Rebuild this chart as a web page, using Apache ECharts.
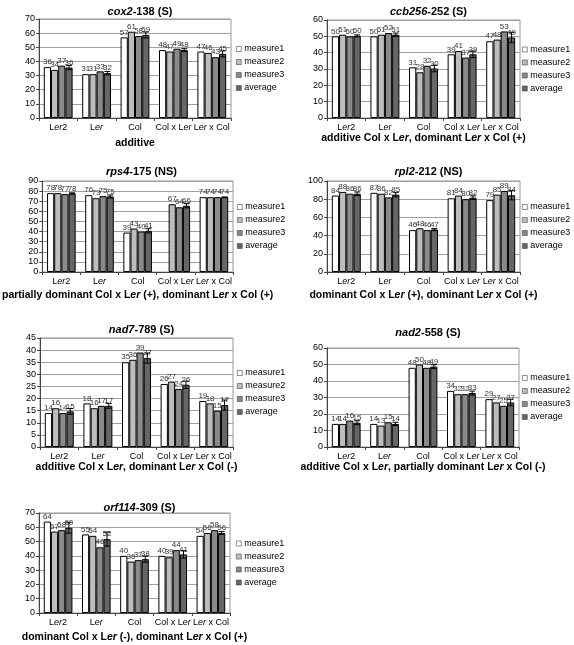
<!DOCTYPE html>
<html>
<head>
<meta charset="utf-8">
<script src="https://cdn.jsdelivr.net/npm/echarts@6/dist/echarts.min.js"></script>
<style>html,body{margin:0;padding:0;background:#fff;}#c{width:574px;height:645px;}</style>
</head>
<body>
<div id="c"></div>
<script>
const categories = ['Ler2', 'Ler', 'Col', 'Col x Ler', 'Ler x Col'];
const seriesNames = ['measure1', 'measure2', 'measure3', 'average'];

// cox2-138 (S)
const cox2M1 = [36, 31, 57, 48, 47];
const cox2M2 = [34, 31, 61, 47, 46];
const cox2M3 = [37, 33, 58, 49, 43];
const cox2Avg = [35.7, 31.7, 58.7, 48, 45.3];
const cox2Err = [1.5, 1.2, 2.1, 1.0, 2.1];
// ccb256-252 (S)
const ccbM1 = [50, 50, 31, 39, 47];
const ccbM2 = [51, 51, 28, 41, 48];
const ccbM3 = [50, 52, 32, 37, 53];
const ccbAvg = [50.3, 51, 30.3, 39, 49.3];
const ccbErr = [0.6, 1.0, 2.0, 2.0, 3.2];
// rps4-175 (NS)
const rps4M1 = [78, 76, 39, null, 74];
const rps4M2 = [78, 73, 43, 67, 74];
const rps4M3 = [77, 75, 40, 64, 74];
const rps4Avg = [77.7, 74.7, 40.7, 65.5, 74];
const rps4Err = [0.6, 1.5, 2.1, 2.1, 0];
// rpl2-212 (NS)
const rpl2M1 = [84, 87, 46, 81, 79];
const rpl2M2 = [88, 86, 48, 84, 85];
const rpl2M3 = [86, 82, 46, 80, 89];
const rpl2Avg = [86, 85, 46.7, 81.7, 84.3];
const rpl2Err = [2.0, 2.5, 1.2, 2.0, 5.0];
// nad7-789 (S)
const nad7M1 = [14, 18, 35, 26, 19];
const nad7M2 = [16, 16, 36, 27, 18];
const nad7M3 = [14, 17, 39, 24, 15];
const nad7Avg = [14.7, 17, 36.7, 25.7, 17.3];
const nad7Err = [1.2, 1.0, 2.1, 1.5, 2.1];
// nad2-558 (S)
const nad2M1 = [14, 14, 48, 34, 29];
const nad2M2 = [14, 13, 50, 32, 27];
const nad2M3 = [16, 15, 48, 32, 25];
const nad2Avg = [14.7, 14, 48.7, 32.7, 27];
const nad2Err = [1.2, 1.0, 1.2, 1.2, 2.0];
// orf114-309 (S)
const orfM1 = [64, 55, 40, 40, 54];
const orfM2 = [57, 54, 36, 39, 56];
const orfM3 = [58, 46, 37, 44, 58];
const orfAvg = [59.7, 51.7, 37.7, 41, 56];
const orfErr = [3.8, 4.9, 2.1, 2.6, 1.0];

const yMax = [70, 60, 90, 100, 45, 60, 70];
const yStep = [10, 10, 10, 20, 5, 10, 10];
const titleGene = ['cox2', 'ccb256', 'rps4', 'rpl2', 'nad7', 'nad2', 'orf114'];
const titleRest = ['-138 (S)', '-252 (S)', '-175 (NS)', '-212 (NS)', '-789 (S)', '-558 (S)', '-309 (S)'];
const xNames = [
  'additive',
  'additive Col x L{bi|er}, dominant L{bi|er} x Col (+)',
  'partially dominant Col x L{bi|er} (+), dominant L{bi|er} x Col (+)',
  'dominant Col x L{bi|er} (+), dominant L{bi|er} x Col (+)',
  'additive Col x L{bi|er}, dominant L{bi|er} x Col (-)',
  'additive Col x L{bi|er}, partially dominant L{bi|er} x Col (-)',
  'dominant Col x L{bi|er} (-), dominant L{bi|er} x Col (+)'
];

const panelData = [
  [cox2M1, cox2M2, cox2M3, cox2Avg, cox2Err],
  [ccbM1, ccbM2, ccbM3, ccbAvg, ccbErr],
  [rps4M1, rps4M2, rps4M3, rps4Avg, rps4Err],
  [rpl2M1, rpl2M2, rpl2M3, rpl2Avg, rpl2Err],
  [nad7M1, nad7M2, nad7M3, nad7Avg, nad7Err],
  [nad2M1, nad2M2, nad2M3, nad2Avg, nad2Err],
  [orfM1, orfM2, orfM3, orfAvg, orfErr]
];

// layout: [left, top, width, height, titleTop, nameGap, legendLeft]
const layout = [
  [39, 19, 192, 99, 1, 20, 236],
  [327, 20, 193, 98, 1, 10, 522],
  [40, 181, 193, 91, 161, 18, 237],
  [327, 181, 193, 91, 161, 18, 522],
  [40, 338, 193, 109, 319, 15, 237],
  [327, 348, 192, 99, 322, 13, 522],
  [39, 513, 191, 100, 497, 19, 236]
];

const colors = ['#ffffff', '#bdbdbd', '#8a8a8a', '#666666'];
const FONT = 'Liberation Sans';
const GAP = 0.25;

const option = {
  animation: false,
  backgroundColor: '#fff',
  title: [], grid: [], xAxis: [], yAxis: [], legend: [], series: []
};

layout.forEach((L, p) => {
  const [left, top, width, height, tTop, nGap, lLeft] = L;
  option.title.push({
    text: '{bi|' + titleGene[p] + '}{b|' + titleRest[p] + '}',
    left: left + width / 2,
    top: tTop,
    textAlign: 'center',
    textStyle: {
      fontSize: 11, fontFamily: FONT, fontWeight: 'bold', color: '#000',
      rich: {
        bi: {fontSize: 11, fontFamily: FONT, fontWeight: 'bold', fontStyle: 'italic', color: '#000'},
        b: {fontSize: 11, fontFamily: FONT, fontWeight: 'bold', color: '#000'}
      }
    }
  });
  option.grid.push({
    left: left, top: top, width: width, height: height,
    show: true, borderColor: '#999', borderWidth: 1, backgroundColor: '#fff'
  });
  option.xAxis.push({
    type: 'category', gridIndex: p, data: categories,
    axisLine: {lineStyle: {color: '#444', width: 1}},
    axisTick: {show: true, alignWithLabel: false, length: 3, lineStyle: {color: '#444'}},
    axisLabel: {
      fontSize: 9, fontFamily: FONT, color: '#000', margin: 5, interval: 0,
      formatter: v => v.replace('Ler', 'L{i|er}'),
      rich: {i: {fontSize: 9, fontFamily: FONT, fontStyle: 'italic', color: '#000'}}
    },
    name: xNames[p], nameLocation: 'middle', nameGap: nGap,
    nameTextStyle: {
      fontSize: 10.5, fontFamily: FONT, fontWeight: 'bold', color: '#000',
      rich: {bi: {fontSize: 10.5, fontFamily: FONT, fontWeight: 'bold', fontStyle: 'italic', color: '#000'}}
    }
  });
  option.yAxis.push({
    type: 'value', gridIndex: p, min: 0, max: yMax[p], interval: yStep[p],
    axisLine: {show: true, lineStyle: {color: '#444', width: 1}},
    axisTick: {show: true, length: 3, lineStyle: {color: '#444'}},
    axisLabel: {fontSize: 9, fontFamily: FONT, color: '#000', margin: 4},
    splitLine: {show: true, lineStyle: {color: '#a0a0a0', width: 1}}
  });
  option.legend.push({
    data: seriesNames, orient: 'vertical', left: lLeft,
    top: top + height / 2 - 24,
    itemWidth: 5, itemHeight: 5, itemGap: 4, icon: 'rect',
    itemStyle: {borderWidth: 0.6, borderColor: '#444'},
    textStyle: {fontSize: 9, fontFamily: FONT, color: '#000', padding: [0, 0, 0, -2]},
    padding: 0, selectedMode: false
  });
  const d = panelData[p];
  for (let s = 0; s < 4; s++) {
    option.series.push({
      type: 'bar', name: seriesNames[s], xAxisIndex: p, yAxisIndex: p,
      data: d[s], barGap: '0%', barCategoryGap: (GAP * 100) + '%',
      itemStyle: {color: colors[s], borderColor: '#000', borderWidth: 1},
      label: {
        show: true, position: 'top', distance: 1, fontSize: 8, fontFamily: FONT, color: '#333',
        formatter: pr => (pr.value == null ? '' : Math.round(pr.value))
      }
    });
  }
  const errData = d[3].map((v, i) => [i, v, d[4][i]]);
  option.series.push({
    type: 'custom', name: 'err' + p, xAxisIndex: p, yAxisIndex: p, z: 5,
    data: errData, encode: {x: 0, y: 1},
    renderItem: function (params, api) {
      const x = api.value(0), y = api.value(1), e = api.value(2);
      const band = api.size([1, 0])[0];
      const group = band * (1 - GAP);
      const bw = group / 4;
      const c = api.coord([x, y]);
      const cx = c[0] - group / 2 + bw * 3.5;
      const hi = api.coord([x, y + e])[1];
      const lo = api.coord([x, y - e])[1];
      const w = 3;
      const st = {stroke: '#000', lineWidth: 1};
      return {type: 'group', children: [
        {type: 'line', shape: {x1: cx, y1: hi, x2: cx, y2: lo}, style: st},
        {type: 'line', shape: {x1: cx - w, y1: hi, x2: cx + w, y2: hi}, style: st},
        {type: 'line', shape: {x1: cx - w, y1: lo, x2: cx + w, y2: lo}, style: st}
      ]};
    }
  });
});

const chart = echarts.init(document.getElementById('c'), null, {renderer: 'canvas'});
chart.setOption(option);
</script>
</body>
</html>
